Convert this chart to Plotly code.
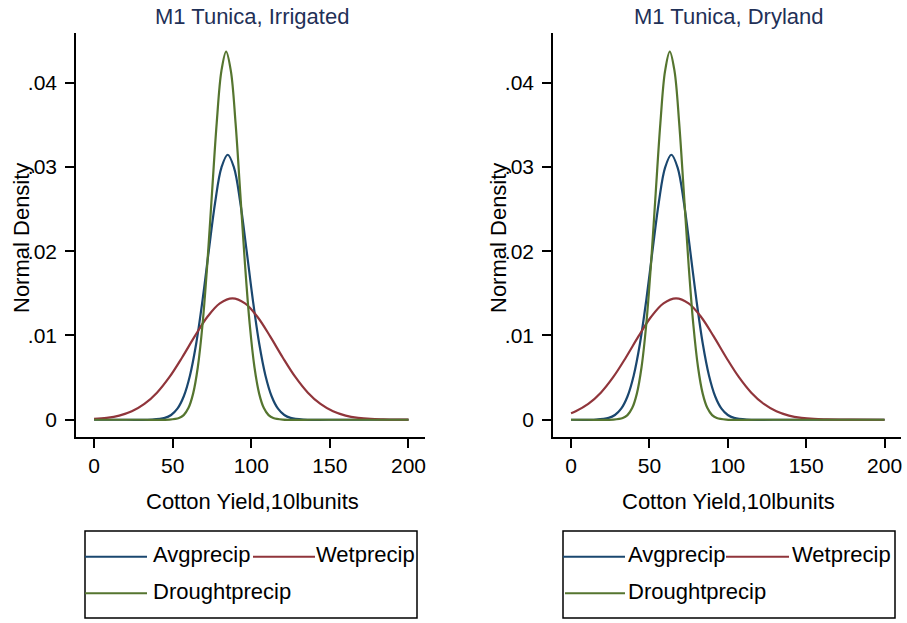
import plotly.graph_objects as go

# ---------------- data ----------------
x_tickvals = [0, 50, 100, 150, 200]
y_tickvals = [0, 0.01, 0.02, 0.03, 0.04]
y_ticktext = ["0", ".01", ".02", ".03", ".04"]
series_names = ["Avgprecip", "Wetprecip", "Droughtprecip"]
panel_titles = ["M1 Tunica, Irrigated", "M1 Tunica, Dryland"]
x_title = "Cotton Yield,10lbunits"
y_title = "Normal Density"

# Irrigated panel
irr_avg_x = [0, 20, 37, 45, 49, 53, 57, 61, 65, 69, 73, 77, 81, 85, 89, 93, 97, 101,
             105, 109, 113, 117, 121, 125, 133, 150, 200]
irr_avg_y = [0, 0, 0.00002, 0.00022, 0.00056, 0.00131, 0.00276, 0.00526, 0.00908,
             0.01420, 0.02011, 0.02578, 0.02993, 0.03145, 0.02993, 0.02578, 0.02011,
             0.01420, 0.00908, 0.00526, 0.00276, 0.00131, 0.00056, 0.00022, 0.00002, 0, 0]
irr_wet_x = [0, 8, 16, 24, 32, 40, 48, 56, 64, 72, 80, 88, 96, 104, 112, 120, 128, 136,
             144, 152, 160, 168, 176, 184, 192, 200]
irr_wet_y = [0.00009, 0.00022, 0.00049, 0.00100, 0.00187, 0.00321, 0.00508, 0.00739,
             0.00989, 0.01219, 0.01381, 0.01440, 0.01381, 0.01219, 0.00989, 0.00739,
             0.00508, 0.00321, 0.00187, 0.00100, 0.00049, 0.00022, 0.00009, 0.00004,
             0.00001, 0.000004]
irr_dry_x = [0, 30, 48, 54, 57, 60, 63, 66, 69, 72, 75, 78, 81, 84, 87, 90, 93, 96, 99,
             102, 105, 108, 111, 114, 120, 140, 200]
irr_dry_y = [0, 0, 0.00002, 0.00020, 0.00055, 0.00138, 0.00310, 0.00626, 0.01133,
             0.01842, 0.02688, 0.03521, 0.04140, 0.04370, 0.04140, 0.03521, 0.02688,
             0.01842, 0.01133, 0.00626, 0.00310, 0.00138, 0.00055, 0.00020, 0.00002, 0, 0]

# Dryland panel
dl_avg_x = [0, 16, 24, 28, 32, 36, 40, 44, 48, 52, 56, 60, 64, 68, 72, 76, 80, 84, 88,
            92, 96, 100, 104, 112, 130, 200]
dl_avg_y = [0, 0.00002, 0.00022, 0.00056, 0.00131, 0.00276, 0.00526, 0.00908, 0.01420,
            0.02011, 0.02578, 0.02993, 0.03145, 0.02993, 0.02578, 0.02011, 0.01420,
            0.00908, 0.00526, 0.00276, 0.00131, 0.00056, 0.00022, 0.00002, 0, 0]
dl_wet_x = [0, 3, 11, 19, 27, 35, 43, 51, 59, 67, 75, 83, 91, 99, 107, 115, 123, 131,
            139, 147, 155, 163, 171, 179, 200]
dl_wet_y = [0.00077, 0.00100, 0.00187, 0.00321, 0.00508, 0.00739, 0.00989, 0.01219,
            0.01381, 0.01440, 0.01381, 0.01219, 0.00989, 0.00739, 0.00508, 0.00321,
            0.00187, 0.00100, 0.00049, 0.00022, 0.00009, 0.00004, 0.00001, 0.000004, 0]
dl_dry_x = [0, 10, 27, 33, 36, 39, 42, 45, 48, 51, 54, 57, 60, 63, 66, 69, 72, 75, 78,
            81, 84, 87, 90, 93, 99, 120, 200]
dl_dry_y = [0, 0, 0.00002, 0.00020, 0.00055, 0.00138, 0.00310, 0.00626, 0.01133,
            0.01842, 0.02688, 0.03521, 0.04140, 0.04370, 0.04140, 0.03521, 0.02688,
            0.01842, 0.01133, 0.00626, 0.00310, 0.00138, 0.00055, 0.00020, 0.00002, 0, 0]

# ---------------- styling ----------------
W, H = 907, 623
colors = ["#1a476f", "#90353b", "#55752f"]
title_color = "#1f3057"
FONT = "Liberation Sans, Arial, sans-serif"


def px(x):
    return x / W


def py(y):
    return 1 - y / H


fig = go.Figure()

panels = [
    ("x", "y", [(irr_avg_x, irr_avg_y), (irr_wet_x, irr_wet_y), (irr_dry_x, irr_dry_y)]),
    ("x2", "y2", [(dl_avg_x, dl_avg_y), (dl_wet_x, dl_wet_y), (dl_dry_x, dl_dry_y)]),
]
for xa, ya, data in panels:
    for (xs, ys), name, c in zip(data, series_names, colors):
        fig.add_trace(go.Scatter(
            x=xs, y=ys, name=name, mode="lines", xaxis=xa, yaxis=ya,
            line=dict(color=c, width=2.2, shape="spline", smoothing=1.0),
            showlegend=False, hoverinfo="skip"))

# panel pixel boxes (x0, x1) and shared y (top, bottom)
panel_x = [(76, 425), (553, 901)]
y_top, y_bot = 33, 437

axis_common = dict(showline=True, linecolor="black", linewidth=1.5, ticks="outside",
                   ticklen=9, tickwidth=1.5, tickcolor="black", showgrid=False,
                   zeroline=False, mirror=False,
                   tickfont=dict(family=FONT, size=21, color="black"))

for i, (x0, x1) in enumerate(panel_x):
    sfx = "" if i == 0 else str(i + 1)
    fig.layout["xaxis" + sfx] = dict(
        axis_common, domain=[px(x0), px(x1)], range=[-11.5, 210.5],
        tickvals=x_tickvals, anchor="y" + sfx)
    fig.layout["yaxis" + sfx] = dict(
        axis_common, domain=[py(y_bot), py(y_top)], range=[-0.00205, 0.0459],
        tickvals=y_tickvals, ticktext=y_ticktext, anchor="x" + sfx,
        ticklabelstandoff=4)

annotations = []
shapes = []
for i, (x0, x1) in enumerate(panel_x):
    cx = (x0 + x1) / 2 + 1.5
    annotations.append(dict(text=panel_titles[i], x=px(cx), y=py(16), xref="paper",
                            yref="paper", showarrow=False, xanchor="center",
                            yanchor="middle",
                            font=dict(family=FONT, size=22, color=title_color)))
    annotations.append(dict(text=x_title, x=px(cx), y=py(501), xref="paper",
                            yref="paper", showarrow=False, xanchor="center",
                            yanchor="middle", font=dict(family=FONT, size=22, color="black")))
    annotations.append(dict(text=y_title, x=px(x0 - 55), y=py(238), xref="paper",
                            yref="paper", showarrow=False, xanchor="center",
                            yanchor="middle", textangle=-90,
                            font=dict(family=FONT, size=22, color="black")))

# legend boxes (drawn as layout decoration)
legend_boxes = [
    dict(box=(85, 417), l1=(85, 147), t1=151, l2=(253, 315), t2=314, l3=(85, 147), t3=151),
    dict(box=(563, 895), l1=(563, 625), t1=626, l2=(726, 789), t2=790, l3=(565, 625), t3=626),
]
row1, row2 = 556.7, 593.3
for lb in legend_boxes:
    shapes.append(dict(type="rect", xref="paper", yref="paper",
                       x0=px(lb["box"][0]), x1=px(lb["box"][1]), y0=py(618), y1=py(531),
                       line=dict(color="black", width=1.5), fillcolor="white", layer="below"))
    for (lx, tx, ry, name, c) in [(lb["l1"], lb["t1"], row1, series_names[0], colors[0]),
                                  (lb["l2"], lb["t2"], row1, series_names[1], colors[1]),
                                  (lb["l3"], lb["t3"], row2, series_names[2], colors[2])]:
        shapes.append(dict(type="line", xref="paper", yref="paper",
                           x0=px(lx[0]), x1=px(lx[1]), y0=py(ry), y1=py(ry),
                           line=dict(color=c, width=2)))
        annotations.append(dict(text=name, x=px(tx), y=py(ry - 2), xref="paper",
                                yref="paper", showarrow=False, xanchor="left",
                                yanchor="middle",
                                font=dict(family=FONT, size=22, color="black")))

fig.update_layout(
    width=W, height=H, margin=dict(l=0, r=0, t=0, b=0),
    paper_bgcolor="white", plot_bgcolor="white",
    annotations=annotations, shapes=shapes, showlegend=False,
)

fig.write_html(
    "out.html",
    config={"displayModeBar": False},
    post_script="document.body.style.margin='0';document.body.style.padding='0';"
                "document.body.style.overflow='hidden';",
)
